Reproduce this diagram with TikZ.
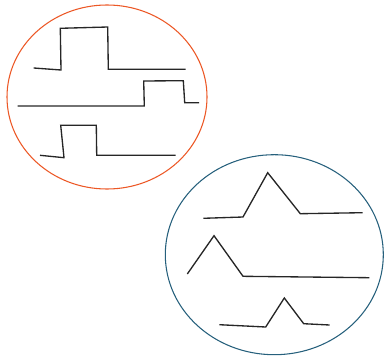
\documentclass[tikz,border=0pt]{standalone}
\usepackage{tikz}

\definecolor{ringorange}{RGB}{236,88,38}
\definecolor{ringblue}{RGB}{38,96,124}

\begin{document}
\begin{tikzpicture}[x=0.75pt,y=-0.75pt,
    ring/.style={line width=0.8pt},
    wave/.style={black!85,line width=1pt,line join=miter}]
  \useasboundingbox (0,0) rectangle (384,356);
  % square pulses
  \draw[ring,ringorange] (107,97) ellipse [x radius=100,y radius=92];
  \draw[wave] (33.7,68) -- (61,70) -- (60.3,28.3) -- (107.7,27) -- (108.3,69.3) -- (185.7,69.3);
  \draw[wave] (17.7,106) -- (144.3,106) -- (143.7,81) -- (183.3,80.7) -- (184.7,102.7) -- (199,102.7);
  \draw[wave] (40,155.3) -- (64,157.7) -- (60.7,125.3) -- (96.3,125.3) -- (96.7,155.3) -- (175.7,155.3);
  % triangular pulses
  \draw[ring,ringblue] (274.3,254.7) ellipse [x radius=109,y radius=100];
  \draw[wave] (203.3,218.3) -- (243,217) -- (267.7,172.7) -- (300.3,213.7) -- (362.7,212.7);
  \draw[wave] (187.3,274) -- (214,235.7) -- (243,276.3) -- (369.3,277.7);
  \draw[wave] (219.3,324.7) -- (265.7,327) -- (284.3,298) -- (303.7,323.7) -- (329.7,325);
\end{tikzpicture}
\end{document}
